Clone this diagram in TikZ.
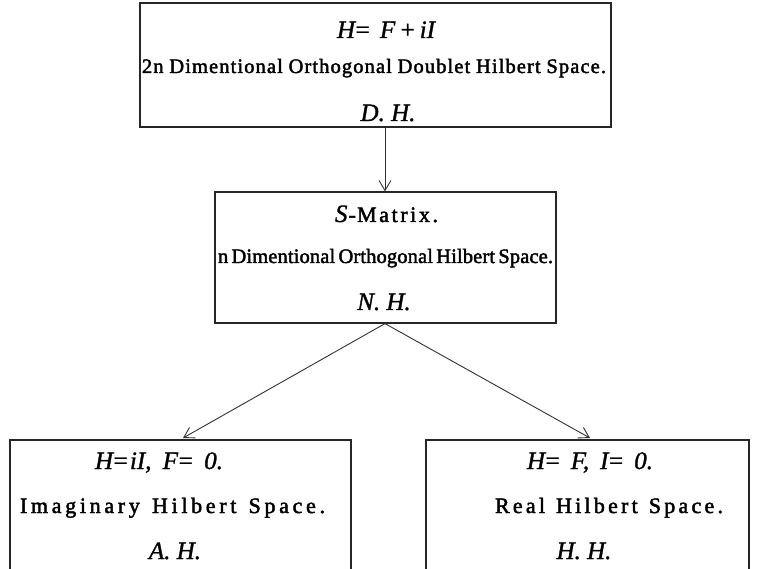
\documentclass[tikz,border=0pt]{standalone}
\usepackage{fontspec}
\setmainfont{Liberation Serif}[FakeBold=2]
\newfontfamily\itfam{Liberation Serif}[FakeBold=1.2]
\usetikzlibrary{arrows.meta}
\makeatletter
% spread the letters of one word with stretchable gaps
\newcommand\sw[1]{\def\sw@first{1}\@tfor\sw@c:=#1\do{\ifx\sw@first\empty\hskip0pt plus 1fil\fi\def\sw@first{}\sw@c}}
\newcommand\wsep{\hskip 3pt plus 2.5fil\relax}
\def\spl@a#1 #2\@nil{\sw{#1}\ifx\relax#2\relax\else\wsep\spl@a#2\@nil\fi}
% a line of given width, letters and words spread
\newcommand\spline[2]{\hbox to #1{\spl@a#2 \@nil}}
\makeatother
\newcommand\wline[2]{\hbox to #1{#2}}
\newcommand\gp[1]{\hskip #1pt plus 1fil\relax}
\tikzset{
  box/.style={draw=black!85, line width=1.2pt, inner sep=0pt},
  edge3/.style={draw=black!85, line width=1.2pt},
  txt/.style={font=\fontsize{20.5}{24}\selectfont, inner sep=0pt, anchor=base},
  txtb/.style={txt, font=\fontsize{22}{26}\selectfont},
  mtxt/.style={font=\fontsize{25}{29}\selectfont\itfam\itshape, inner sep=0pt, anchor=base},
  conn/.style={draw=black!80, line width=0.9pt, -{Straight Barb[length=10pt,width=12pt,line width=0.9pt]}},
}
\begin{document}
\begin{tikzpicture}[x=1pt,y=-1pt]
\clip (0,0) rectangle (758,569);
\fill[white] (0,0) rectangle (758,569);
% boxes
\node[box, minimum width=471pt, minimum height=124pt] (top) at (375.5,65) {};
\node[box, minimum width=341pt, minimum height=131pt] (mid) at (385.5,257.5) {};
\coordinate (lft) at (183,438);
\coordinate (rgt) at (590,438);
\draw[edge3] (10,575) -- (10,440) -- (351,440) -- (351,575);
\draw[edge3] (426,575) -- (426,440) -- (749,440) -- (749,575);
% top texts
\node[mtxt] (t1) at (386,38) {\wline{98pt}{H\kern-1pt=\gp{2}F\hskip 1pt plus 0.4fil+\hskip 1pt plus 0.4fil iI}};
\node[txt] (t2) at (374,73) {\spline{464pt}{2n Dimentional Orthogonal Doublet Hilbert Space.}};
\node[mtxt] (t3) at (388,121) {D. H.};
% middle texts
\node[txtb] (m1) at (386.5,222) {\hbox to 103pt{{\itfam\itshape\fontsize{25}{29}\selectfont S}\kern1pt-\hskip 0pt plus 0.5fil\sw{Matrix.}}};
\node[txt] (m2) at (385.5,263) {\spline{335pt}{n Dimentional Orthogonal Hilbert Space.}};
\node[mtxt] (m3) at (384,310) {N. H.};
% bottom left
\node[mtxt] (l1) at (159,469) {\wline{128pt}{H\kern-1pt=\kern1pt iI,\gp{4}F\kern-1pt=\gp{3}0.}};
\node[txtb] (l2) at (172.5,513) {\spline{305pt}{Imaginary Hilbert Space.}};
\node[mtxt] (l3) at (175,559) {A. H.};
% bottom right
\node[mtxt] (r1) at (590,469) {\wline{126pt}{H\kern-1pt=\gp{3}F,\gp{4}I\kern-1pt=\gp{3}0.}};
\node[txtb] (r2) at (609,513) {\spline{228pt}{Real Hilbert Space.}};
\node[mtxt] (r3) at (584,559) {H. H.};
% connectors
\draw[conn] (top.south -| 385,0) -- (mid.north -| 385,0);
\draw[conn] (mid.south -| 385,0) -- (lft);
\draw[conn] (mid.south -| 385,0) -- (rgt);
\end{tikzpicture}
\end{document}
